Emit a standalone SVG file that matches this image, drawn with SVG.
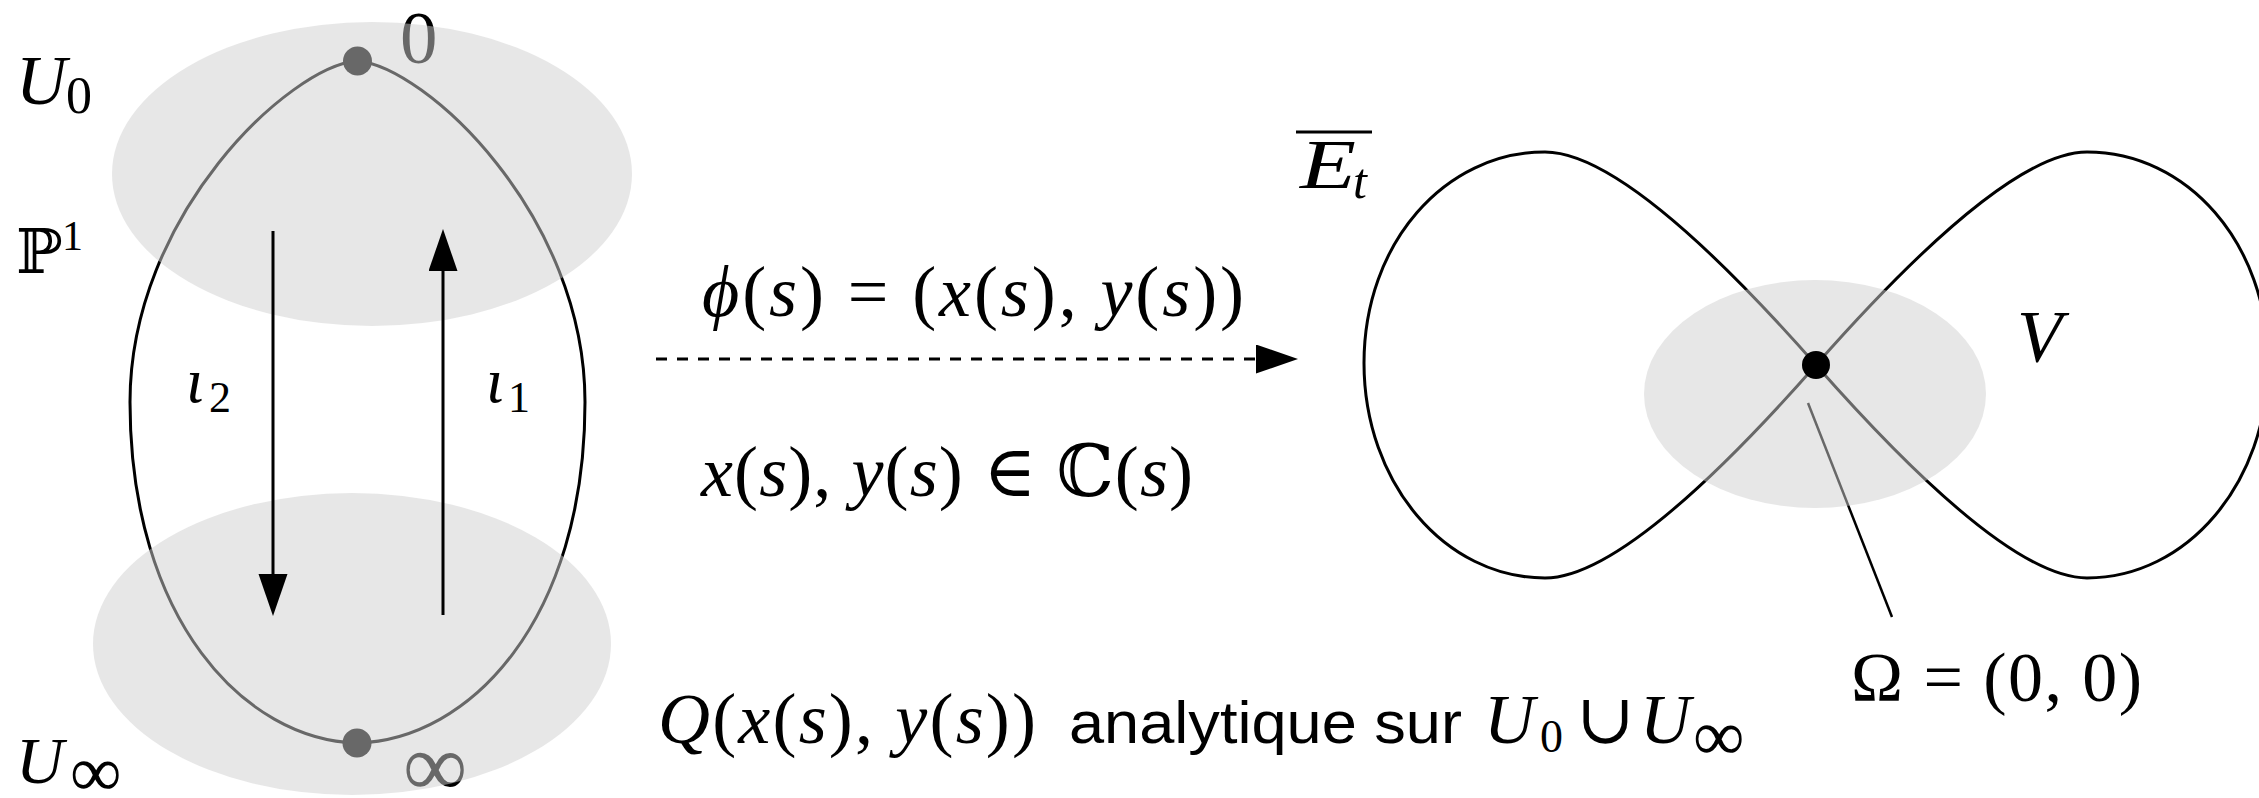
<svg xmlns="http://www.w3.org/2000/svg" width="2259" height="798" viewBox="0 0 2259 798">
<style>
.m{font-family:"Liberation Serif","DejaVu Serif","DejaVu Sans",serif;fill:#000}
.i{font-style:italic}
.s{font-family:"Liberation Sans","DejaVu Sans",sans-serif;fill:#000}
.curve{fill:none;stroke:#000;stroke-width:3}
.blob{fill:#d0d0d0;fill-opacity:0.5;stroke:none}
.arr{stroke:#000;stroke-width:3;fill:none;marker-end:url(#ah)}
</style>
<defs>
<marker id="ah" markerUnits="userSpaceOnUse" markerWidth="44" markerHeight="30" refX="32" refY="14.5" orient="auto">
<path d="M0,0 L42,14.5 L0,29 Z" fill="#000"/>
</marker>
</defs>

<g id="P1-sphere">
<path class="curve" d="M357,61 C425,66 585,215 585,402 C585,620 470,740 357,743 C245,740 130,620 130,402 C130,215 290,66 357,61 Z"/>
<circle cx="357.5" cy="61" r="14.5" fill="#000"/>
<circle cx="357" cy="743" r="14.5" fill="#000"/>
<text class="m" x="400" y="63" font-size="75">0</text>
<text class="m" x="403" y="796" font-size="90">∞</text>
</g>

<g id="U0">
<ellipse class="blob" cx="372" cy="174" rx="260" ry="152"/>
</g>
<g id="Uinf">
<ellipse class="blob" cx="352" cy="644" rx="259" ry="151"/>
</g>

<g id="labels-left">
<text class="m" x="16" y="104" font-size="70"><tspan class="i">U</tspan><tspan x="66" y="113" font-size="52">0</tspan></text>
<text class="m" x="16" y="273" font-size="62">ℙ<tspan x="62" y="250" font-size="42">1</tspan></text>
<text class="m" x="16" y="783" font-size="66"><tspan class="i">U</tspan><tspan x="70" y="796" font-size="72">∞</tspan></text>
<text class="m" x="186" y="402" font-size="64"><tspan class="i">ι</tspan><tspan x="209" y="412" font-size="44">2</tspan></text>
<text class="m" x="486" y="402" font-size="64"><tspan class="i">ι</tspan><tspan x="508" y="412" font-size="44">1</tspan></text>
</g>

<g id="connectors">
<line class="arr" x1="273" y1="231" x2="273" y2="606"/>
<line class="arr" x1="443" y1="615" x2="443" y2="239"/>
<line class="arr" x1="656" y1="359" x2="1288" y2="359" stroke-width="3.5" stroke-dasharray="11 10"/>
</g>

<g id="map-labels">
<text class="m" x="702" y="316" font-size="72" textLength="542"><tspan class="i">ϕ</tspan>(<tspan class="i">s</tspan>) = (<tspan class="i">x</tspan>(<tspan class="i">s</tspan>), <tspan class="i">y</tspan>(<tspan class="i">s</tspan>))</text>
<text class="m" x="701" y="496" font-size="72" textLength="492"><tspan class="i">x</tspan>(<tspan class="i">s</tspan>), <tspan class="i">y</tspan>(<tspan class="i">s</tspan>) ∈ ℂ(<tspan class="i">s</tspan>)</text>
<text class="m" x="658" y="743" font-size="72" textLength="378"><tspan class="i">Q</tspan>(<tspan class="i">x</tspan>(<tspan class="i">s</tspan>), <tspan class="i">y</tspan>(<tspan class="i">s</tspan>))</text>
<text class="s" x="1069" y="743" font-size="60" textLength="393" lengthAdjust="spacingAndGlyphs">analytique sur</text>
<text class="m" x="1484" y="743" font-size="70"><tspan class="i">U</tspan><tspan x="1540" y="752" font-size="46">0</tspan><tspan x="1576" y="743">∪</tspan><tspan x="1640" y="743" class="i">U</tspan><tspan x="1693" y="760" font-size="72">∞</tspan></text>
</g>

<g id="Et-curve">
<path class="curve" d="M1816,365 C1690,222 1600,152 1545,152 C1445,152 1364,243 1364,363 C1364,483 1445,578 1545,578 C1600,578 1690,508 1816,365 C1942,222 2032,152 2087,152 C2187,152 2268,243 2268,363 C2268,483 2187,578 2087,578 C2032,578 1942,508 1816,365 Z"/>
<line x1="1808" y1="403" x2="1892" y2="617" stroke="#000" stroke-width="2.5"/>
<line x1="1296" y1="132" x2="1372" y2="132" stroke="#000" stroke-width="3"/>
<text class="m" x="1300" y="188" font-size="70"><tspan class="i" textLength="56" lengthAdjust="spacingAndGlyphs">E</tspan><tspan class="i" x="1353" y="198" font-size="50">t</tspan></text>
</g>

<g id="V">
<ellipse class="blob" cx="1815" cy="394" rx="171" ry="114"/>
<text class="m i" x="2017" y="362" font-size="74">V</text>
</g>

<g id="Omega">
<circle cx="1816" cy="365" r="14" fill="#000"/>
<text class="m" x="1851" y="701" font-size="70" textLength="291">Ω = (0, 0)</text>
</g>
</svg>
